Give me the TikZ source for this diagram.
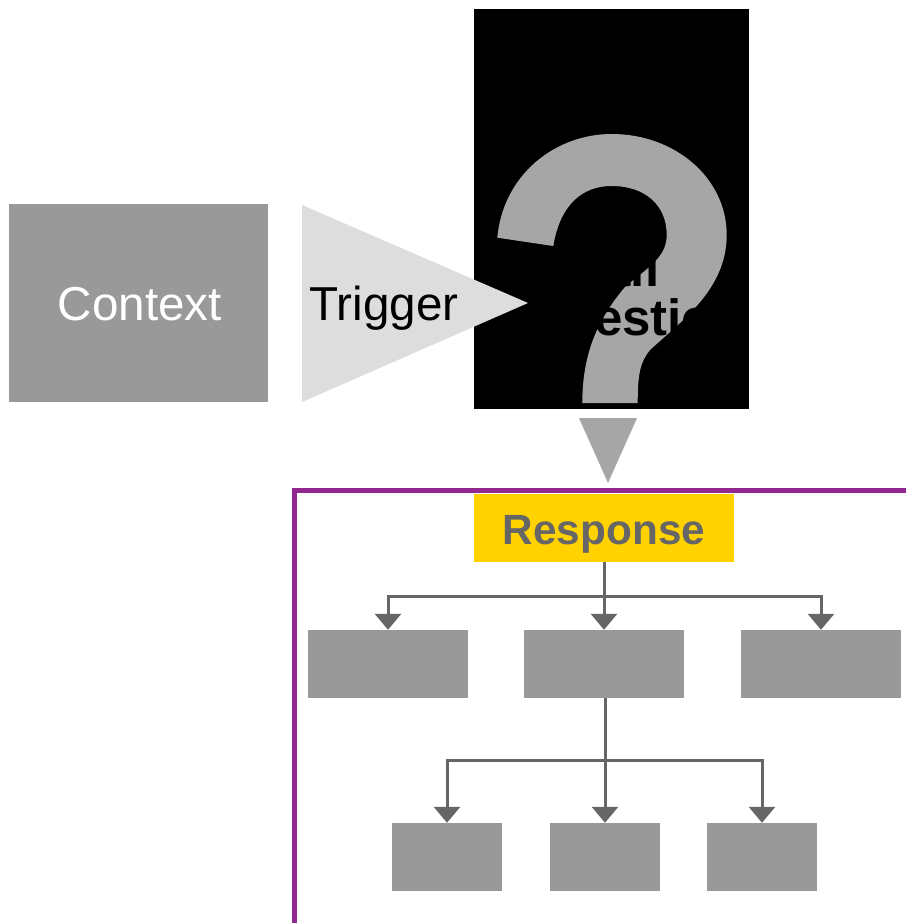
\documentclass[tikz,border=0pt]{standalone}
\usepackage{fontspec}
\setmainfont{Liberation Sans}
\usetikzlibrary{arrows.meta}

\definecolor{boxgray}{HTML}{999999}
\definecolor{markgray}{HTML}{A6A6A6}
\definecolor{trigray}{HTML}{DDDDDD}
\definecolor{linkgray}{HTML}{666666}
\definecolor{framepurple}{HTML}{92278F}
\definecolor{respyellow}{HTML}{FFD200}

\tikzset{
    box/.style={fill=boxgray, inner sep=0pt, minimum height=68pt},
    widebox/.style={box, minimum width=160pt},
    smallbox/.style={box, minimum width=110pt},
    bigtext/.style={inner sep=0pt, anchor=base, font=\fontsize{47.6}{49}\selectfont},
    qtext/.style={inner sep=0pt, font=\fontsize{51}{53}\selectfont\bfseries},
    link/.style={draw=linkgray, line width=3pt, -{Triangle[width=26pt,length=16pt]}},
}

\begin{document}
\begin{tikzpicture}[x=1pt, y=-1pt]
    \useasboundingbox (0,0) rectangle (906,923);

    \node[box, minimum width=259pt, minimum height=198pt] (context) at (138.5,303) {};
    \node[bigtext, text=white] (contexttext) at (140,320) {Context};

    \node[fill=black, inner sep=0pt, minimum width=275pt, minimum height=400pt] (question) at (611.5,209) {};
    \fill[markgray] (497.3,237.7) .. controls (503,175) and (555,134) .. (611.7,134)
        .. controls (675,134) and (726.7,178) .. (726.7,235)
        .. controls (726.7,290) and (680,322) .. (650,350)
        .. controls (640,362) and (637.7,375) .. (637.7,403)
        -- (582.3,403)
        .. controls (582.3,355) and (597,320) .. (625,287)
        .. controls (647,268) and (666.7,258) .. (666.7,235)
        .. controls (666.7,205) and (645,186) .. (611.7,186)
        .. controls (582,186) and (560,205) .. (553.3,246)
        -- cycle;
    \node[qtext, anchor=base east] (qline1) at (659.5,286.7) {Call};
    \node[qtext, anchor=base west] (qline2) at (523,335) {Question};

    \fill[trigray] (302,205) -- (528,303) -- (302,402) -- cycle;
    \node[bigtext] (trigger) at (384,320) {Trigger};

    \fill[markgray] (579,418) -- (637,418) -- (608,483) -- cycle;

    \draw[framepurple, line width=5pt] (906,490) -- (294,490) -- (294,923);

    \node[fill=respyellow, inner sep=0pt, minimum width=260pt, minimum height=68pt] (response) at (604,528) {};
    \node[inner sep=0pt, anchor=base, text=linkgray, font=\fontsize{42.3}{44}\selectfont\bfseries] (resptext) at (604,544) {Response};

    \node[widebox] (a1) at (388,664) {};
    \node[widebox] (a2) at (604,664) {};
    \node[widebox] (a3) at (821,664) {};

    \node[smallbox] (b1) at (447,857) {};
    \node[smallbox] (b2) at (605,857) {};
    \node[smallbox] (b3) at (762,857) {};

    \foreach \n in {a1,a2,a3}
        \draw[link] (response.south) -- ++(0,34) -| (\n.north);
    \foreach \n in {b1,b2,b3}
        \draw[link] (b2.north |- a2.south) -- ++(0,62) -| (\n.north);
\end{tikzpicture}
\end{document}
